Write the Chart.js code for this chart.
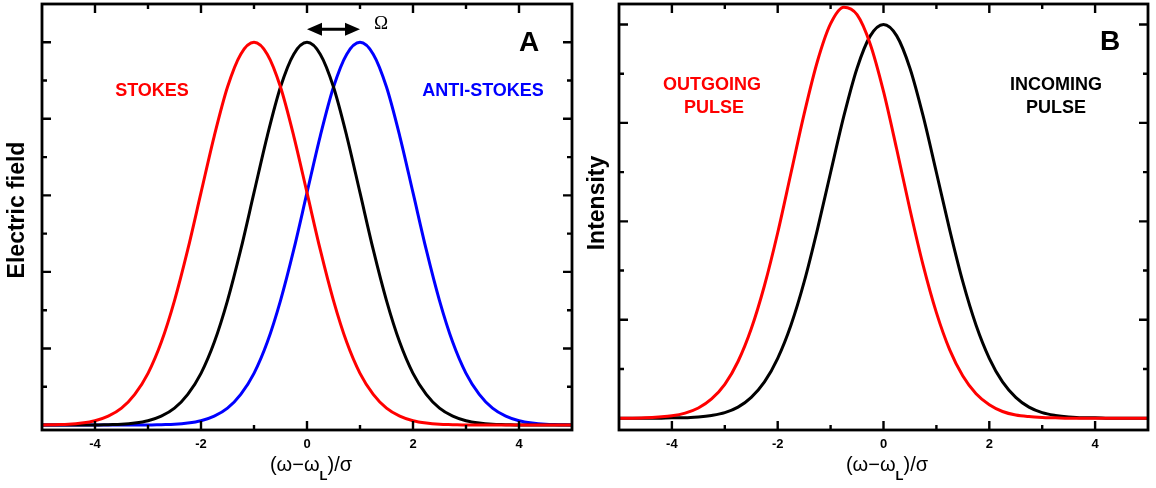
<!DOCTYPE html>
<html>
<head>
<meta charset="utf-8">
<script src="https://cdn.jsdelivr.net/npm/chart.js@4.4.1/dist/chart.umd.min.js"></script>
<style>
  html, body { margin: 0; padding: 0; background: #fff; }
  #wrap { position: relative; width: 1156px; height: 488px; }
  canvas { position: absolute; top: 0; }
  #chartA { left: 0; }
  #chartB { left: 578px; }
</style>
</head>
<body>
<div id="wrap">
  <canvas id="chartA" width="580" height="488"></canvas>
  <canvas id="chartB" width="578" height="488"></canvas>
</div>
<script>
// (ω−ω_L)/σ sample points
const detuning = [-5, -4.75, -4.5, -4.25, -4, -3.75, -3.5, -3.25, -3, -2.75, -2.5, -2.25, -2, -1.75, -1.5, -1.25, -1, -0.75, -0.5, -0.25,
  0, 0.25, 0.5, 0.75, 1, 1.25, 1.5, 1.75, 2, 2.25, 2.5, 2.75, 3, 3.25, 3.5, 3.75, 4, 4.25, 4.5, 4.75, 5];

// panel A: field envelopes
const stokesField = [0, 0.001, 0.002, 0.005, 0.011, 0.023, 0.044, 0.08, 0.135, 0.216, 0.325, 0.458, 0.607, 0.755, 0.883, 0.969, 1,
  0.969, 0.883, 0.755, 0.607, 0.458, 0.325, 0.216, 0.135, 0.08, 0.044, 0.023, 0.011, 0.005, 0.002, 0.001, 0, 0, 0, 0, 0, 0, 0, 0, 0];
const laserField = [0, 0, 0, 0, 0, 0.001, 0.002, 0.005, 0.011, 0.023, 0.044, 0.08, 0.135, 0.216, 0.325, 0.458, 0.607, 0.755, 0.883, 0.969,
  1, 0.969, 0.883, 0.755, 0.607, 0.458, 0.325, 0.216, 0.135, 0.08, 0.044, 0.023, 0.011, 0.005, 0.002, 0.001, 0, 0, 0, 0, 0];
const antiStokesField = [0, 0, 0, 0, 0, 0, 0, 0, 0, 0.001, 0.002, 0.005, 0.011, 0.023, 0.044, 0.08, 0.135, 0.216, 0.325, 0.458, 0.607,
  0.755, 0.883, 0.969, 1, 0.969, 0.883, 0.755, 0.607, 0.458, 0.325, 0.216, 0.135, 0.08, 0.044, 0.023, 0.011, 0.005, 0.002, 0.001, 0];

// panel B: pulse intensities
const incomingPulse = [0, 0, 0, 0, 0.001, 0.001, 0.003, 0.007, 0.014, 0.028, 0.053, 0.092, 0.152, 0.236, 0.346, 0.479, 0.624, 0.767, 0.889, 0.971,
  1, 0.971, 0.889, 0.767, 0.624, 0.479, 0.346, 0.236, 0.152, 0.092, 0.053, 0.028, 0.014, 0.007, 0.003, 0.001, 0.001, 0, 0, 0, 0];
const outgoingPulse = [0, 0, 0.001, 0.003, 0.006, 0.013, 0.026, 0.049, 0.086, 0.144, 0.227, 0.337, 0.471, 0.622, 0.773, 0.906, 1.002, 1.044, 1.025, 0.95,
  0.83, 0.683, 0.53, 0.388, 0.268, 0.174, 0.107, 0.062, 0.034, 0.017, 0.008, 0.004, 0.002, 0.001, 0, 0, 0, 0, 0, 0, 0];

// tick marks
const xLabelTicks = [-4, -2, 0, 2, 4];
const xMinorTicks = [-3, -1, 1, 3];
const fieldMajorTicks = [0.2, 0.4, 0.6, 0.8, 1.0];
const fieldMinorTicks = [0.1, 0.3, 0.5, 0.7, 0.9];
const intensityMajorTicks = [0.25, 0.5, 0.75, 1.0];
const intensityMinorTicks = [0.125, 0.375, 0.625, 0.875];

const SANS = '"Liberation Sans", Arial, Helvetica, sans-serif';

function drawXTitle(ctx, cx, baseY) {
  const parts = [
    ['(ω−ω', '20px ' + SANS, 0],
    ['L', 'bold 13px ' + SANS, 9],
    [')/σ', '20px ' + SANS, 0],
  ];
  let w = 0;
  parts.forEach(([t, f]) => { ctx.font = f; w += ctx.measureText(t).width; });
  let px = cx - w / 2;
  ctx.textAlign = 'left';
  ctx.textBaseline = 'alphabetic';
  ctx.fillStyle = '#000';
  parts.forEach(([t, f, dy]) => {
    ctx.font = f;
    ctx.fillText(t, px, baseY + dy);
    px += ctx.measureText(t).width;
  });
}

function arrowHead(ctx, x0, y0, dir) {
  ctx.beginPath();
  ctx.moveTo(x0, y0);
  ctx.lineTo(x0 - dir * 15, y0 - 6.5);
  ctx.lineTo(x0 - dir * 15, y0 + 6.5);
  ctx.closePath();
  ctx.fill();
}

// frame, inward ticks, axis titles and labels
const panelDecor = {
  id: 'panelDecor',
  afterDatasetsDraw(chart, args, o) {
    const { ctx, chartArea: a, scales: { x, y } } = chart;
    ctx.save();
    ctx.strokeStyle = '#000';
    ctx.fillStyle = '#000';
    ctx.lineWidth = 2.4;

    const xTicks = (vals, len) => vals.forEach(v => {
      const p = x.getPixelForValue(v);
      ctx.beginPath();
      ctx.moveTo(p, a.bottom); ctx.lineTo(p, a.bottom - len);
      ctx.moveTo(p, a.top); ctx.lineTo(p, a.top + len);
      ctx.stroke();
    });
    const yTicks = (vals, len) => vals.forEach(v => {
      const p = y.getPixelForValue(v);
      ctx.beginPath();
      ctx.moveTo(a.left, p); ctx.lineTo(a.left + len, p);
      ctx.moveTo(a.right, p); ctx.lineTo(a.right - len, p);
      ctx.stroke();
    });
    xTicks(xLabelTicks, 9);
    xTicks(xMinorTicks, 5);
    yTicks(o.yMajor, 9);
    yTicks(o.yMinor, 5);

    ctx.lineWidth = 2.8;
    ctx.strokeRect(a.left, a.top, a.right - a.left, a.bottom - a.top);

    // y title
    ctx.save();
    ctx.translate(o.yTitle.x, o.yTitle.y);
    ctx.rotate(-Math.PI / 2);
    ctx.font = 'bold 23px ' + SANS;
    ctx.textAlign = 'center';
    ctx.textBaseline = 'middle';
    ctx.fillText(o.yTitle.text, 0, 0);
    ctx.restore();

    drawXTitle(ctx, o.xTitleX, 471);

    ctx.textAlign = 'center';
    ctx.textBaseline = 'middle';
    o.labels.forEach(l => {
      ctx.font = l.font;
      ctx.fillStyle = l.color;
      ctx.fillText(l.text, l.x, l.y);
    });

    // Ω shift arrow between laser and anti-Stokes peaks
    if (o.shift) {
      const s = o.shift;
      const x0 = x.getPixelForValue(s.from);
      const x1 = x.getPixelForValue(s.to);
      const py = y.getPixelForValue(s.level);
      ctx.fillStyle = '#000';
      ctx.lineWidth = 3;
      ctx.beginPath();
      ctx.moveTo(x0 + 8, py); ctx.lineTo(x1 - 8, py);
      ctx.stroke();
      arrowHead(ctx, x0, py, -1);
      arrowHead(ctx, x1, py, 1);
      ctx.font = '19px "Liberation Serif", "DejaVu Serif", serif';
      ctx.fillText('Ω', s.labelX, s.labelY);
    }
    ctx.restore();
  }
};

function makePanel(id, cfg) {
  return new Chart(document.getElementById(id), {
    type: 'line',
    data: {
      datasets: cfg.series.map(s => ({
        data: detuning.map((d, i) => ({ x: d, y: s.values[i] })),
        borderColor: s.color,
        borderWidth: 3,
        pointRadius: 0,
        cubicInterpolationMode: 'monotone',
        fill: false,
      })),
    },
    options: {
      responsive: false,
      animation: false,
      layout: { padding: { top: 4, right: cfg.right } },
      plugins: {
        legend: { display: false },
        tooltip: { enabled: false },
        panelDecor: cfg.decor,
      },
      scales: {
        x: {
          type: 'linear',
          min: -5,
          max: 5,
          grid: { display: false, drawTicks: false },
          border: { display: false },
          ticks: {
            stepSize: 1,
            autoSkip: false,
            maxRotation: 0,
            padding: 7,
            color: '#000',
            font: { family: SANS, size: 13, weight: 'bold' },
            callback: v => (xLabelTicks.includes(v) ? String(v) : ''),
          },
          afterFit: s => { s.height = 58; },
        },
        y: {
          min: cfg.yMin,
          max: cfg.yMax,
          grid: { display: false, drawTicks: false },
          border: { display: false },
          ticks: { display: false },
          afterFit: s => { s.width = cfg.left; },
        },
      },
    },
    plugins: [panelDecor],
  });
}

makePanel('chartA', {
  left: 42,
  right: 8,
  yMin: -0.013,
  yMax: 1.1,
  series: [
    { values: stokesField, color: '#ff0000' },
    { values: laserField, color: '#000000' },
    { values: antiStokesField, color: '#0000ff' },
  ],
  decor: {
    yMajor: fieldMajorTicks,
    yMinor: fieldMinorTicks,
    yTitle: { text: 'Electric field', x: 18, y: 210 },
    xTitleX: 311,
    labels: [
      { text: 'A', font: 'bold 28px ' + SANS, color: '#000', x: 529, y: 43 },
      { text: 'STOKES', font: 'bold 18px ' + SANS, color: '#ff0000', x: 152, y: 91 },
      { text: 'ANTI-STOKES', font: 'bold 18px ' + SANS, color: '#0000ff', x: 483, y: 91 },
    ],
    shift: { from: 0, to: 1, level: 1.034, labelX: 381, labelY: 24 },
  },
});

makePanel('chartB', {
  left: 41,
  right: 8,
  yMin: -0.03,
  yMax: 1.052,
  series: [
    { values: outgoingPulse, color: '#ff0000' },
    { values: incomingPulse, color: '#000000' },
  ],
  decor: {
    yMajor: intensityMajorTicks,
    yMinor: intensityMinorTicks,
    yTitle: { text: 'Intensity', x: 20, y: 203 },
    xTitleX: 309,
    labels: [
      { text: 'B', font: 'bold 28px ' + SANS, color: '#000', x: 532, y: 42 },
      { text: 'OUTGOING', font: 'bold 18px ' + SANS, color: '#ff0000', x: 134, y: 85 },
      { text: 'PULSE', font: 'bold 18px ' + SANS, color: '#ff0000', x: 136, y: 108 },
      { text: 'INCOMING', font: 'bold 18px ' + SANS, color: '#000', x: 478, y: 85 },
      { text: 'PULSE', font: 'bold 18px ' + SANS, color: '#000', x: 478, y: 108 },
    ],
  },
});
</script>
</body>
</html>
